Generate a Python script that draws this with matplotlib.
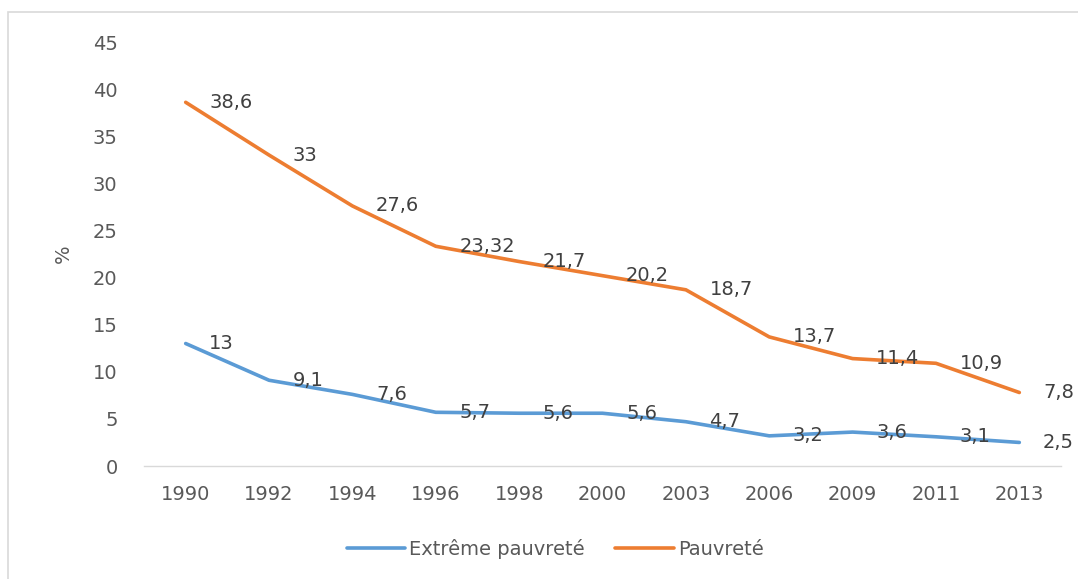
import matplotlib
matplotlib.use("Agg")
import matplotlib.pyplot as plt
from matplotlib.patches import Rectangle

years = ["1990", "1992", "1994", "1996", "1998", "2000", "2003", "2006", "2009", "2011", "2013"]
extreme = [13, 9.1, 7.6, 5.7, 5.6, 5.6, 4.7, 3.2, 3.6, 3.1, 2.5]
pauvrete = [38.6, 33, 27.6, 23.32, 21.7, 20.2, 18.7, 13.7, 11.4, 10.9, 7.8]
series_names = ["Extrême pauvreté", "Pauvreté"]
yticks = [0, 5, 10, 15, 20, 25, 30, 35, 40, 45]

plt.rcParams['font.family'] = ['DejaVu Sans']
text_color = "#595959"
blue = "#5B9BD5"
orange = "#ED7D31"
fs = 14

fig = plt.figure(figsize=(10.78, 5.79), dpi=100)
fig.patches.append(Rectangle((8/1078, -0.1), 1.2, 1 - 12/579 + 0.1, transform=fig.transFigure,
                             fill=False, edgecolor="#D9D9D9", linewidth=1.2, zorder=0))
ax = fig.add_axes([144/1078, 1 - 466/579, (1061 - 144)/1078, (466 - 42)/579])

x = list(range(len(years)))
ax.plot(x, extreme, color=blue, lw=2.6, solid_joinstyle='round', solid_capstyle='round', label=series_names[0])
ax.plot(x, pauvrete, color=orange, lw=2.6, solid_joinstyle='round', solid_capstyle='round', label=series_names[1])

def fmt(v):
    return ("%g" % v).replace(".", ",")

for ys in (extreme, pauvrete):
    for xi, yi in zip(x, ys):
        ax.annotate(fmt(yi), (xi, yi), xytext=(17, 0), textcoords="offset points",
                    ha="left", va="center", fontsize=fs, color="#404040")

ax.set_xlim(-0.5, len(years) - 0.5)
ax.set_ylim(0, 45)
ax.set_yticks(yticks)
ax.set_xticks(x)
ax.set_xticklabels(years)
ax.tick_params(axis='both', length=0, labelsize=fs, colors=text_color)
ax.tick_params(axis='y', pad=19)
ax.tick_params(axis='x', pad=14)
for s in ["top", "right", "left"]:
    ax.spines[s].set_visible(False)
ax.spines["bottom"].set_color("#D9D9D9")
ax.spines["bottom"].set_linewidth(1.0)
ax.set_ylabel("%", fontsize=fs, color=text_color, labelpad=14)

leg = fig.legend(loc="center", bbox_to_anchor=(555/1078, 1 - 549/579), ncol=2, frameon=False,
                 fontsize=fs, handlelength=3.0, handletextpad=0.2, columnspacing=1.6)
for t in leg.get_texts():
    t.set_color(text_color)

fig.savefig("out.png", dpi=100)
